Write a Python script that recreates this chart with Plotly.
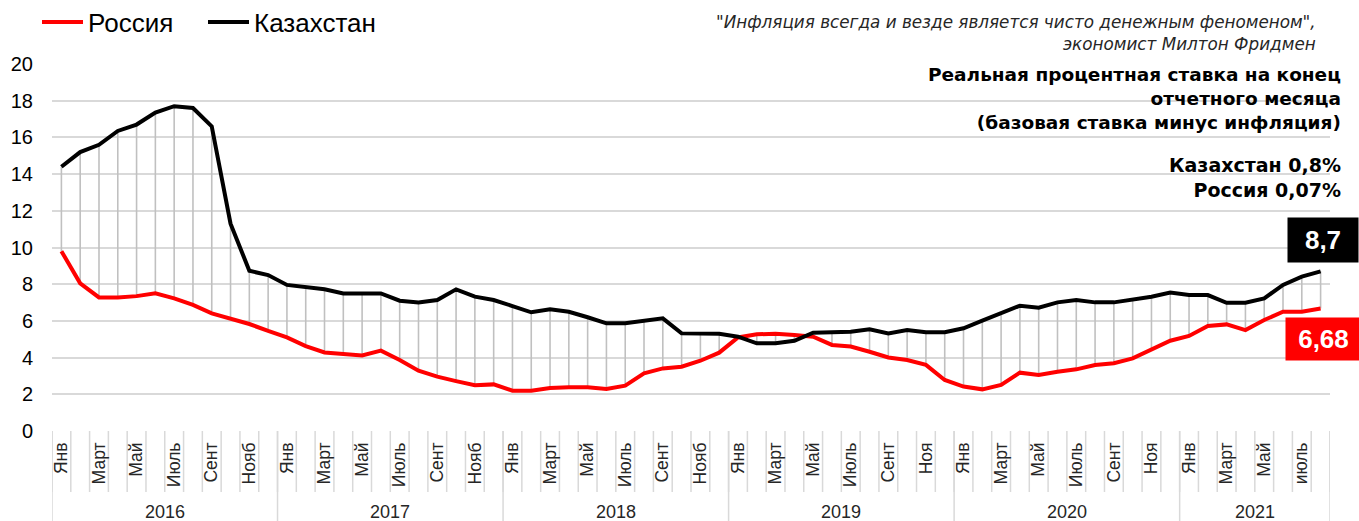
import plotly.graph_objects as go

# ---------------- data ----------------
years = ["2016", "2017", "2018", "2019", "2020", "2021"]
months_per_year = [12, 12, 12, 12, 12, 8]

month_labels = (
    ["Янв", "", "Март", "", "Май", "", "Июль", "", "Сент", "", "Нояб", ""] * 3
    + ["Янв", "", "Март", "", "Май", "", "Июль", "", "Сент", "", "Ноя", ""] * 2
    + ["Янв", "", "Март", "", "Май", "", "июль", ""]
)

kazakhstan = [
    14.4, 15.2, 15.6, 16.35, 16.7, 17.35, 17.7, 17.6, 16.6, 11.3, 8.73, 8.5,
    7.96, 7.83, 7.72, 7.5, 7.5, 7.5, 7.1, 7.0, 7.14, 7.72, 7.32, 7.14,
    6.81, 6.47, 6.63, 6.5, 6.2, 5.87, 5.87, 6.01, 6.14, 5.32, 5.32, 5.3,
    5.14, 4.78, 4.78, 4.92, 5.36, 5.41, 5.41, 5.54, 5.32, 5.5, 5.38, 5.38,
    5.6, 6.01, 6.41, 6.83, 6.72, 7.01, 7.14, 7.01, 7.01, 7.14, 7.32, 7.54,
    7.41, 7.41, 6.99, 6.99, 7.23, 7.96, 8.41, 8.7,
]

russia = [
    9.8, 8.05, 7.28, 7.28, 7.35, 7.5, 7.23, 6.87, 6.41, 6.14, 5.83, 5.45,
    5.1, 4.63, 4.28, 4.2, 4.12, 4.38, 3.87, 3.29, 2.96, 2.72, 2.49, 2.54,
    2.2, 2.2, 2.34, 2.38, 2.38, 2.29, 2.47, 3.14, 3.41, 3.5, 3.83, 4.27,
    5.1, 5.27, 5.3, 5.23, 5.14, 4.69, 4.6, 4.32, 4.01, 3.87, 3.6, 2.78,
    2.42, 2.27, 2.51, 3.18, 3.05, 3.23, 3.36, 3.6, 3.69, 3.96, 4.45, 4.92,
    5.18, 5.72, 5.81, 5.5, 6.05, 6.5, 6.5, 6.68,
]

y_ticks = [0, 2, 4, 6, 8, 10, 12, 14, 16, 18, 20]

quote_text = "\"Инфляция всегда и везде является чисто денежным феноменом\",<br>экономист Милтон Фридмен"
title_text = "Реальная процентная ставка на конец<br>отчетного месяца<br>(базовая ставка минус инфляция)"
note_text = "Казахстан 0,8%<br>Россия 0,07%"

# ---------------- derived ----------------
n = len(russia)
x = list(range(n))
month_bounds = [i - 0.5 for i in range(n + 1)]
year_bounds = [-0.5]
for m in months_per_year:
    year_bounds.append(year_bounds[-1] + m)
year_centers = [(year_bounds[i] + year_bounds[i + 1]) / 2 for i in range(len(years))]

tickvals = [i for i, l in enumerate(month_labels) if l]
ticktext = [l for l in month_labels if l]

drop_x, drop_y = [], []
for i in x:
    drop_x += [i, i, None]
    drop_y += [kazakhstan[i], russia[i], None]

FONT = "Liberation Sans, Arial, sans-serif"
WIDE = "DejaVu Sans, Verdana, sans-serif"
GRID = "#d9d9d9"
W, H = 1359, 521
ML, MR, MT, MB = 52, 29, 64, 90
PLOT_W = W - ML - MR
PLOT_H = H - MT - MB


def px(xp):
    return (xp - ML) / PLOT_W


def py(yp):
    return (H - MB - yp) / PLOT_H


fig = go.Figure()
fig.add_trace(go.Scatter(x=drop_x, y=drop_y, mode="lines",
                         line=dict(color="#c0c0c0", width=1.6),
                         showlegend=False, hoverinfo="skip"))
fig.add_trace(go.Scatter(x=x, y=russia, mode="lines", name="Россия",
                         line=dict(color="#ff0000", width=4), legend="legend"))
fig.add_trace(go.Scatter(x=x, y=kazakhstan, mode="lines", name="Казахстан",
                         line=dict(color="#000000", width=4), legend="legend2"))

rng = [-0.5, n - 0.5]

shapes = []
for b in month_bounds:
    shapes.append(dict(type="line", xref="x", yref="paper", x0=b, x1=b,
                       y0=0, y1=-61 / PLOT_H, line=dict(color=GRID, width=1.5), layer="below"))
for b in year_bounds:
    shapes.append(dict(type="line", xref="x", yref="paper", x0=b, x1=b,
                       y0=0, y1=-90 / PLOT_H, line=dict(color=GRID, width=1.5), layer="below"))

annotations = []
for yr, c in zip(years, year_centers):
    annotations.append(dict(x=c, y=py(512), xref="x", yref="paper", text=yr,
                            showarrow=False, font=dict(family=FONT, size=18, color="#262626"),
                            xanchor="center", yanchor="middle"))

annotations.append(dict(x=px(1318), y=py(33), xref="paper", yref="paper",
                        text=quote_text,
                        showarrow=False, align="right", xanchor="right", yanchor="middle",
                        font=dict(family=WIDE, size=16.8, color="#262626", style="italic")))
annotations.append(dict(x=px(1343), y=py(99), xref="paper", yref="paper",
                        text=title_text,
                        showarrow=False, align="right", xanchor="right", yanchor="middle",
                        font=dict(family=WIDE, size=18.5, color="#000000", weight="bold")))
annotations.append(dict(x=px(1343), y=py(177), xref="paper", yref="paper",
                        text=note_text,
                        showarrow=False, align="right", xanchor="right", yanchor="middle",
                        font=dict(family=WIDE, size=19, color="#000000", weight="bold")))

annotations.append(dict(x=x[-1], y=kazakhstan[-1], xref="x", yref="y",
                        text=f"{kazakhstan[-1]:.1f}".replace(".", ","),
                        showarrow=False, xshift=2, yshift=31, width=68, height=42,
                        bgcolor="#000000", font=dict(family=FONT, size=26, color="#ffffff", weight="bold")))
annotations.append(dict(x=x[-1], y=russia[-1], xref="x", yref="y",
                        text=f"{russia[-1]:.2f}".replace(".", ","),
                        showarrow=False, xshift=3, yshift=-31, width=73, height=40,
                        bgcolor="#ff0000", font=dict(family=FONT, size=26, color="#ffffff", weight="bold")))

legend_common = dict(orientation="h", xref="container", yref="container",
                     y=1 - 22 / H, xanchor="left", yanchor="middle",
                     font=dict(family=FONT, size=26, color="#000000"),
                     itemwidth=41, bgcolor="rgba(0,0,0,0)")

fig.update_layout(
    width=W, height=H, autosize=False,
    margin=dict(l=ML, r=MR, t=MT, b=MB, autoexpand=False),
    paper_bgcolor="white", plot_bgcolor="white",
    font=dict(family=FONT, color="#000000"),
    showlegend=True,
    legend=dict(x=37 / W, **legend_common),
    legend2=dict(x=203 / W, **legend_common),
    xaxis=dict(range=rng, tickmode="array", tickvals=tickvals, ticktext=ticktext,
               tickangle=-90, ticks="", showgrid=False, zeroline=False, showline=False,
               tickfont=dict(family=FONT, size=17.5, color="#262626"), ticklabelstandoff=7),
    yaxis=dict(range=[0, 20], tickmode="array", tickvals=y_ticks, showgrid=True,
               gridcolor=GRID, gridwidth=2, zeroline=False, showline=False, ticks="",
               tickfont=dict(family=FONT, size=20, color="#000000"), ticklabelstandoff=18),
    shapes=shapes,
    annotations=annotations,
)

fig.write_html("out.html", config={"displayModeBar": False},
               post_script="document.body.style.margin='0px';")
